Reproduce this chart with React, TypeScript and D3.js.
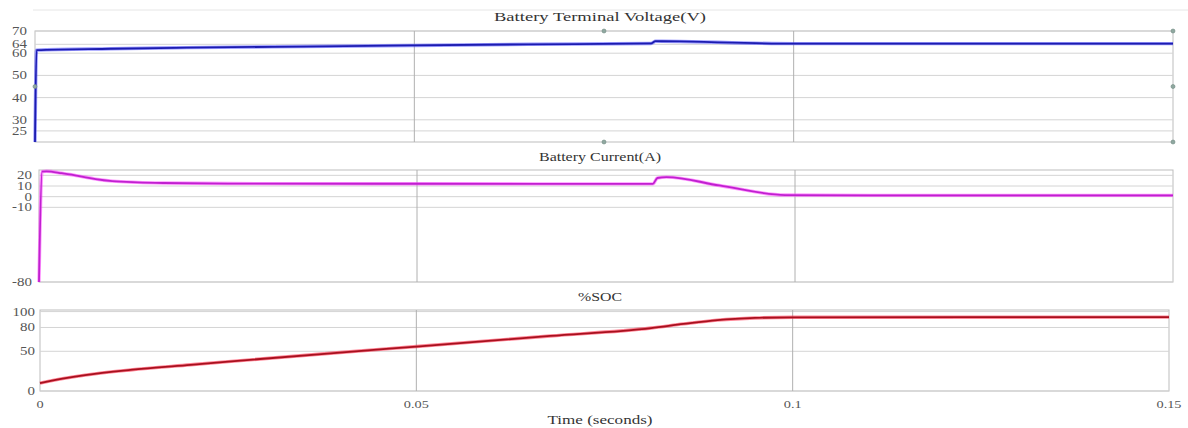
import React from "react";
import * as d3 from "d3";

const W = 1188;
const H = 428;

const xTicks = [0, 0.05, 0.1, 0.15];
const xTickLabels = ["0", "0.05", "0.1", "0.15"];

const voltageTicks = [25, 30, 40, 50, 60, 64, 70];
const currentTicks = [-80, -10, 0, 10, 20];
const socTicks = [0, 50, 80, 100];

const voltageT = [0, 0.0002, 0.01, 0.02, 0.035, 0.05, 0.065, 0.0812, 0.0818, 0.085, 0.09, 0.095, 0.1, 0.15];
const voltageV = [0, 61.4, 62.0, 62.5, 63.0, 63.5, 64.0, 64.4, 65.4, 65.3, 64.9, 64.5, 64.3, 64.3];

const currentT = [0, 0.0004, 0.001, 0.003, 0.0053, 0.0075, 0.0097, 0.013, 0.0164, 0.025, 0.05, 0.0812, 0.0818, 0.083, 0.09, 0.0987, 0.11, 0.15];
const currentV = [-80, 23.5, 23.8, 22.0, 19.3, 16.5, 14.6, 13.4, 12.8, 12.3, 12.1, 12.0, 17.5, 18.3, 10.5, 1.5, 1.2, 1.2];

const socT = [0, 0.003, 0.006, 0.012, 0.02, 0.025, 0.0386, 0.05, 0.0678, 0.0812, 0.0855, 0.09, 0.095, 0.1, 0.15];
const socV = [10, 15.5, 20, 26.5, 33, 37, 47.5, 56, 69.3, 79.3, 84.5, 89.3, 92, 92.8, 93];

// small handle markers on the first panel
const handleX = [0, 0.075, 0.075, 0.15, 0.15, 0.15];
const handleV = [45, 70, 20, 70, 45, 20];

type Panel = {
  title: string;
  left: number;
  right: number;
  top: number;
  bottom: number;
  domain: [number, number];
  ticks: number[];
  t: number[];
  v: number[];
  color: string;
  core: string;
  titleY: number;
  labelX: number;
  titleW: number;
};

const panels: Panel[] = [
  {
    title: "Battery Terminal Voltage(V)",
    left: 35, right: 1173, top: 31, bottom: 142,
    domain: [20, 70], ticks: voltageTicks, t: voltageT, v: voltageV,
    color: "#4a4aff", core: "#1c1cb0", titleY: 21, labelX: 27, titleW: 212,
  },
  {
    title: "Battery Current(A)",
    left: 39, right: 1173, top: 170, bottom: 282,
    domain: [-80, 25], ticks: currentTicks, t: currentT, v: currentV,
    color: "#ff40ff", core: "#c020d0", titleY: 161, labelX: 32, titleW: 122,
  },
  {
    title: "%SOC",
    left: 40, right: 1169, top: 310, bottom: 391,
    domain: [0, 102], ticks: socTicks, t: socT, v: socV,
    color: "#ff2040", core: "#a8101e", titleY: 301, labelX: 35, titleW: 44,
  },
];

const font = "'Times New Roman', 'Liberation Serif', Tinos, 'DejaVu Serif', serif";
const SX = 1.3;

function SText({ x, y, anchor, size, fill, children }: { x: number; y: number; anchor: string; size: number; fill: string; children: React.ReactNode }) {
  return (
    <text
      transform={`translate(${x},${y}) scale(${SX},1)`}
      textAnchor={anchor}
      style={{ fontFamily: font }}
      fontSize={size}
      fill={fill}
    >
      {children}
    </text>
  );
}

function PanelView({ p, idx }: { p: Panel; idx: number }) {
  const x = d3.scaleLinear().domain([0, 0.15]).range([p.left, p.right]);
  const y = d3.scaleLinear().domain(p.domain).range([p.bottom, p.top]);
  const pts: [number, number][] = p.t.map((t, i) => [t, p.v[i]]);
  const line = d3
    .line<[number, number]>()
    .x((d) => x(d[0]))
    .y((d) => y(Math.max(p.domain[0], Math.min(p.domain[1], d[1]))))
    .curve(d3.curveMonotoneX);
  const dPath = line(pts) || "";
  const clipId = `clip${idx}`;
  return (
    <g>
      <defs>
        <clipPath id={clipId}>
          <rect x={p.left - 2} y={p.top - 2} width={p.right - p.left + 4} height={p.bottom - p.top + 4} />
        </clipPath>
      </defs>
      <rect x={p.left} y={p.top} width={p.right - p.left} height={p.bottom - p.top} fill="#ffffff" stroke="#bdbdbd" strokeWidth={1} />
      {p.ticks.map((tk) => (
        <line key={"h" + tk} x1={p.left} x2={p.right} y1={y(tk)} y2={y(tk)} stroke="#d4d4d4" strokeWidth={1} />
      ))}
      {xTicks.slice(1, 3).map((tk) => (
        <line key={"v" + tk} x1={x(tk)} x2={x(tk)} y1={p.top} y2={p.bottom} stroke="#b0b0b0" strokeWidth={1} />
      ))}
      {p.ticks.map((tk) => (
        <SText key={"l" + tk} x={p.labelX} y={y(tk) + 4} anchor="end" size={11.5} fill="#555">
          {tk}
        </SText>
      ))}
      <g clipPath={`url(#${clipId})`}>
        <path d={dPath} fill="none" stroke={p.color} strokeWidth={3.4} strokeOpacity={0.55} strokeLinejoin="round" />
        <path d={dPath} fill="none" stroke={p.core} strokeWidth={1.8} strokeLinejoin="round" />
      </g>
      <text
        x={600}
        y={p.titleY}
        textAnchor="middle"
        style={{ fontFamily: font }}
        fontSize={13}
        fill="#333"
        textLength={p.titleW}
        lengthAdjust="spacingAndGlyphs"
      >
        {p.title}
      </text>
      {idx === 0 &&
        handleX.map((hx, i) => (
          <circle key={"m" + i} cx={x(hx)} cy={y(handleV[i])} r={2} fill="#8fa8a0" stroke="#6f8880" strokeWidth={0.6} />
        ))}
    </g>
  );
}

export default function App() {
  const bottom = panels[2];
  const xb = d3.scaleLinear().domain([0, 0.15]).range([bottom.left, bottom.right]);
  return (
    <svg width={W} height={H} style={{ position: "absolute", left: 0, top: 0, background: "#fff" }}>
      <rect x={0} y={0} width={W} height={H} fill="#ffffff" />
      <line x1={33} x2={W} y1={10} y2={10} stroke="#e6e6e6" strokeWidth={1} />
      {panels.map((p, i) => (
        <PanelView key={i} p={p} idx={i} />
      ))}
      {xTicks.map((tk, i) => (
        <SText key={"xt" + tk} x={xb(tk)} y={408} anchor="middle" size={11} fill="#555">
          {xTickLabels[i]}
        </SText>
      ))}
      <text
        x={600}
        y={424}
        textAnchor="middle"
        style={{ fontFamily: font }}
        fontSize={13}
        fill="#333"
        textLength={105}
        lengthAdjust="spacingAndGlyphs"
      >
        Time (seconds)
      </text>
    </svg>
  );
}
